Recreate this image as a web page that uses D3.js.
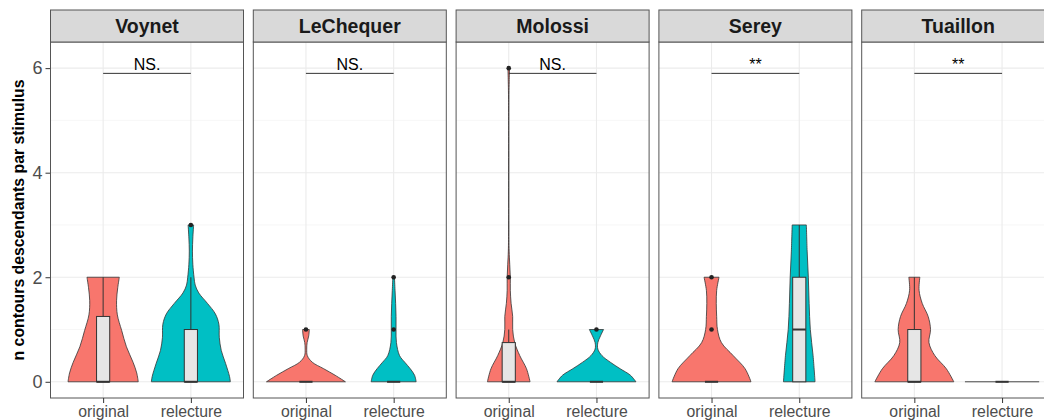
<!DOCTYPE html>
<html>
<head>
<meta charset="utf-8">
<script src="https://cdn.jsdelivr.net/npm/d3@7"></script>
<style>
  html, body { margin: 0; padding: 0; background: #ffffff; }
  svg { display: block; font-family: "Liberation Sans", Arial, sans-serif; }
</style>
</head>
<body>
<svg id="chart" width="1044" height="420"></svg>
<script>
// ---------------- DATA ----------------
const panels = ["Voynet", "LeChequer", "Molossi", "Serey", "Tuaillon"];
const groups = ["original", "relecture"];
const yTicks = [0, 2, 4, 6];
const yMinor = [1, 3, 5];
const yTitle = "n contours descendants par stimulus";
const sigLabels = ["NS.", "NS.", "NS.", "**", "**"];
const sigY = 5.9;

// violin profiles: [value, relative density width (1 = widest violin in plot)]
const violinVoynetOriginal = [[0,0.89],[0.17,0.85],[0.37,0.76],[0.67,0.59],[0.98,0.47],[1.28,0.36],[1.55,0.34],[1.8,0.37],[2,0.41]];
const violinVoynetRelecture = [[0,1.0],[0.1,0.98],[0.35,0.88],[0.6,0.77],[0.85,0.72],[1.1,0.71],[1.3,0.62],[1.5,0.42],[1.7,0.2],[1.85,0.11],[2.0,0.08],[2.25,0.05],[2.5,0.04],[2.75,0.05],[3,0.07]];
const violinLeChequerOriginal = [[0,1.0],[0.125,0.74],[0.25,0.45],[0.375,0.16],[0.5,0.035],[0.625,0.02],[0.75,0.03],[0.875,0.07],[1,0.085]];
const violinLeChequerRelecture = [[0,0.57],[0.125,0.53],[0.25,0.42],[0.375,0.28],[0.5,0.15],[0.75,0.07],[1,0.06],[1.25,0.06],[1.5,0.05],[1.75,0.035],[2,0.02]];
const violinMolossiOriginal = [[0,0.54],[0.25,0.45],[0.5,0.28],[0.75,0.15],[1,0.1],[1.25,0.1],[1.5,0.06],[1.75,0.04],[2,0.04],[2.25,0.025],[2.5,0.01],[3,0.003],[5,0.003],[5.5,0.006],[5.75,0.012],[6,0.02]];
const violinMolossiRelecture = [[0,1.0],[0.125,0.86],[0.25,0.6],[0.375,0.35],[0.5,0.14],[0.625,0.035],[0.75,0.035],[0.875,0.1],[1,0.18]];
const violinSereyOriginal = [[0,1.0],[0.25,0.85],[0.5,0.55],[0.75,0.25],[1,0.15],[1.25,0.13],[1.5,0.12],[1.75,0.13],[2,0.19]];
const violinSereyRelecture = [[0,0.4],[0.5,0.35],[1,0.28],[1.5,0.25],[2,0.23],[2.5,0.2],[3,0.18]];
const violinTuaillonOriginal = [[0,1.0],[0.25,0.81],[0.5,0.52],[0.75,0.37],[1,0.41],[1.25,0.35],[1.5,0.2],[1.75,0.12],[2,0.14]];
const violinTuaillonRelecture = [[0,0.94]];

const violins = [
  [violinVoynetOriginal, violinVoynetRelecture],
  [violinLeChequerOriginal, violinLeChequerRelecture],
  [violinMolossiOriginal, violinMolossiRelecture],
  [violinSereyOriginal, violinSereyRelecture],
  [violinTuaillonOriginal, violinTuaillonRelecture]
];

// boxplot stats: [lower whisker, q1, median, q3, upper whisker]
const boxOriginal  = [[0,0,0,1.25,2],[0,0,0,0,0],[0,0,0,0.75,1],[0,0,0,0,0],[0,0,0,1,2]];
const boxRelecture = [[0,0,0,1,2],[0,0,0,0,0],[0,0,0,0,0],[0,0,1,2,3],[0,0,0,0,0]];
const outliersOriginal  = [[],[1],[2,6],[1,2],[]];
const outliersRelecture = [[3],[1,2],[1],[],[]];

const fillColors = ["#F8766D", "#00BFC4"];

// ---------------- LAYOUT ----------------
const svg = d3.select("#chart");
const panelLeft0 = 50.5, panelPitch = 202.8, panelW = 193;
const stripTop = 10, stripH = 32, panelTop = 42, panelBottom = 398;

const y = d3.scaleLinear().domain([-0.31, 6.5]).range([panelBottom, panelTop]);
const x = d3.scalePoint().domain(groups).range([0, panelW]).padding(0.6);
const unit = x.step();
const halfMax = 0.45 * unit;
const boxHalf = 0.075 * unit;

// y axis title
svg.append("text")
  .attr("transform", `translate(18,${(panelTop + panelBottom) / 2}) rotate(-90)`)
  .attr("text-anchor", "middle")
  .attr("dominant-baseline", "central")
  .style("font-size", "15.8px").style("font-weight", "bold").attr("fill", "#000")
  .text(yTitle);

// y axis (left of first panel)
const yAxisG = svg.append("g")
  .attr("transform", `translate(${panelLeft0},0)`)
  .call(d3.axisLeft(y).tickValues(yTicks).tickSize(5).tickPadding(3).tickFormat(d3.format("d")));
yAxisG.select(".domain").remove();
yAxisG.selectAll(".tick line").attr("stroke", "#333").attr("stroke-width", 1);
yAxisG.selectAll(".tick text").attr("fill", "#4d4d4d").style("font-size", "18px")
  .style("font-family", "'Liberation Sans', Arial, sans-serif");

panels.forEach((name, i) => {
  const left = panelLeft0 + i * panelPitch;
  const g = svg.append("g").attr("transform", `translate(${left},0)`);

  // background
  g.append("rect").attr("x", 0).attr("y", panelTop).attr("width", panelW)
    .attr("height", panelBottom - panelTop).attr("fill", "#fff");

  // grid
  g.selectAll(".minor").data(yMinor).enter().append("line")
    .attr("x1", 0).attr("x2", panelW).attr("y1", d => y(d)).attr("y2", d => y(d))
    .attr("stroke", "#f2f2f2").attr("stroke-width", 0.6);
  g.selectAll(".major").data(yTicks).enter().append("line")
    .attr("x1", 0).attr("x2", panelW).attr("y1", d => y(d)).attr("y2", d => y(d))
    .attr("stroke", "#ebebeb").attr("stroke-width", 1.1);
  g.selectAll(".vmajor").data(groups).enter().append("line")
    .attr("x1", d => x(d)).attr("x2", d => x(d)).attr("y1", panelTop).attr("y2", panelBottom)
    .attr("stroke", "#ebebeb").attr("stroke-width", 1.1);

  // violins
  groups.forEach((grp, k) => {
    const cx = x(grp);
    const prof = violins[i][k];
    if (prof.length === 1) {
      g.append("line")
        .attr("x1", cx - prof[0][1] * halfMax).attr("x2", cx + prof[0][1] * halfMax)
        .attr("y1", y(prof[0][0])).attr("y2", y(prof[0][0]))
        .attr("stroke", "#333").attr("stroke-width", 0.9);
    } else {
      const area = d3.area()
        .y(d => y(d[0]))
        .x0(d => cx - d[1] * halfMax)
        .x1(d => cx + d[1] * halfMax)
        .curve(d3.curveCatmullRom.alpha(0.5));
      g.append("path").attr("d", area(prof))
        .attr("fill", fillColors[k]).attr("stroke", "#333").attr("stroke-width", 0.8);
    }
  });

  // boxplots
  groups.forEach((grp, k) => {
    const cx = x(grp);
    const b = (k === 0 ? boxOriginal : boxRelecture)[i];
    const outs = (k === 0 ? outliersOriginal : outliersRelecture)[i];
    if (b[4] > b[3]) g.append("line").attr("x1", cx).attr("x2", cx).attr("y1", y(b[3])).attr("y2", y(b[4]))
      .attr("stroke", "#333").attr("stroke-width", 1);
    if (b[1] > b[0]) g.append("line").attr("x1", cx).attr("x2", cx).attr("y1", y(b[0])).attr("y2", y(b[1]))
      .attr("stroke", "#333").attr("stroke-width", 1);
    g.append("rect").attr("x", cx - boxHalf).attr("width", 2 * boxHalf)
      .attr("y", y(b[3])).attr("height", Math.max(0, y(b[1]) - y(b[3])))
      .attr("fill", "#e6e6e6").attr("stroke", "#333").attr("stroke-width", 1);
    g.append("line").attr("x1", cx - boxHalf).attr("x2", cx + boxHalf)
      .attr("y1", y(b[2])).attr("y2", y(b[2]))
      .attr("stroke", "#333").attr("stroke-width", 2);
    g.selectAll(null).data(outs).enter().append("circle")
      .attr("cx", cx).attr("cy", d => y(d)).attr("r", 2.3).attr("fill", "#222");
  });

  // significance
  g.append("line").attr("x1", x(groups[0])).attr("x2", x(groups[1]))
    .attr("y1", y(sigY)).attr("y2", y(sigY)).attr("stroke", "#333").attr("stroke-width", 1);
  g.append("text").attr("x", (x(groups[0]) + x(groups[1])) / 2).attr("y", y(sigY) - 3)
    .attr("text-anchor", "middle").style("font-size", "16px").attr("fill", "#000")
    .text(sigLabels[i]);

  // panel border
  g.append("rect").attr("x", 0).attr("y", panelTop).attr("width", panelW)
    .attr("height", panelBottom - panelTop).attr("fill", "none")
    .attr("stroke", "#555").attr("stroke-width", 1);

  // strip
  g.append("rect").attr("x", 0).attr("y", stripTop).attr("width", panelW).attr("height", stripH)
    .attr("fill", "#d9d9d9").attr("stroke", "#555").attr("stroke-width", 1);
  g.append("text").attr("x", panelW / 2).attr("y", stripTop + stripH / 2)
    .attr("text-anchor", "middle").attr("dominant-baseline", "central")
    .style("font-size", "19.5px").style("font-weight", "bold").attr("fill", "#1a1a1a")
    .text(name);

  // x axis
  const xa = g.append("g").attr("transform", `translate(0,${panelBottom})`)
    .call(d3.axisBottom(x).tickSize(5).tickPadding(3));
  xa.select(".domain").remove();
  xa.selectAll(".tick line").attr("stroke", "#333").attr("stroke-width", 1);
  xa.selectAll(".tick text").attr("fill", "#4d4d4d").style("font-size", "15.8px")
    .style("font-family", "'Liberation Sans', Arial, sans-serif");
});
</script>
</body>
</html>
